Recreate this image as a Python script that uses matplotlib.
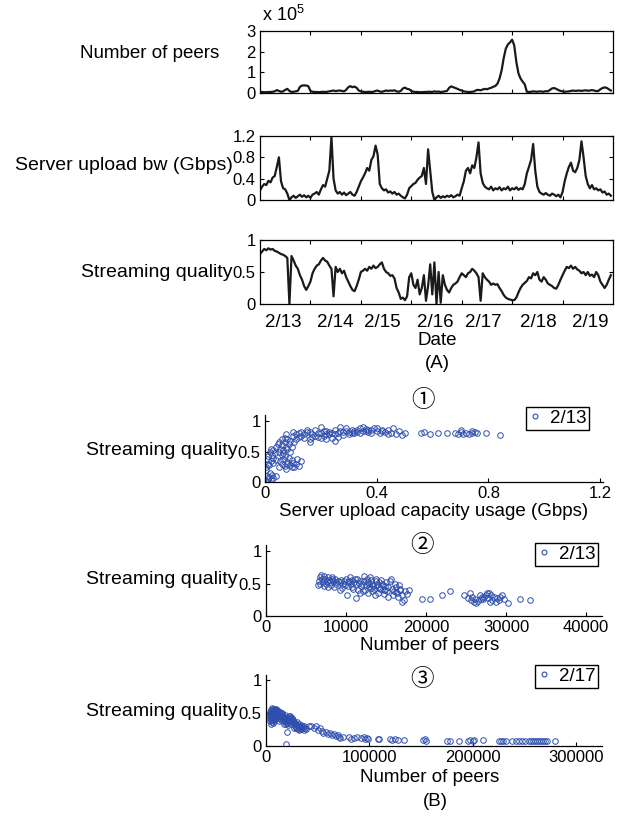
import numpy as np
import matplotlib
matplotlib.use("Agg")
import matplotlib.pyplot as plt
from matplotlib.lines import Line2D

plt.rcParams['font.family'] = ['Liberation Sans', 'Noto Sans CJK JP', 'DejaVu Sans']
plt.rcParams['mathtext.fontset'] = 'custom'
plt.rcParams['mathtext.rm'] = 'Liberation Sans'
plt.rcParams['mathtext.it'] = 'Liberation Sans'

# ---------------- Data (A): hourly samples, 2/13 .. 2/19 ----------------
date_labels = ['2/13', '2/14', '2/15', '2/16', '2/17', '2/18', '2/19']

peers_k = [5, 5, 4, 4, 5, 5, 6, 8, 14, 10, 6, 8, 15, 20, 10, 5, 6, 8, 10, 30,
           36, 37, 36, 33, 10, 6, 5, 5, 4, 5, 6, 5, 6, 8, 10, 12, 9, 11, 12, 10,
           8, 15, 28, 33, 28, 31, 25, 12, 8, 6, 5, 5, 6, 5, 6, 10, 12, 7, 6, 9,
           12, 10, 12, 11, 13, 8, 6, 10, 22, 26, 20, 18, 10, 6, 5, 5, 4, 4, 5, 5,
           6, 6, 5, 8, 6, 7, 5, 6, 8, 10, 25, 32, 28, 24, 20, 15, 12, 8, 6, 5,
           5, 6, 8, 14, 15, 13, 17, 20, 18, 22, 25, 30, 34, 45, 70, 110, 170, 215, 235, 245,
           258, 230, 150, 95, 70, 55, 42, 6, 5, 6, 8, 7, 6, 8, 7, 6, 9, 8, 15, 22,
           24, 20, 14, 10, 8, 6, 7, 8, 10, 12, 10, 11, 12, 10, 12, 13, 11, 12, 14, 12,
           9, 10, 18, 24, 27, 25, 18, 12]

server_bw = [0.18, 0.25, 0.30, 0.28, 0.36, 0.33, 0.42, 0.45, 0.62, 0.80, 0.35, 0.22, 0.20, 0.12, 0.00, 0.05,
             0.08, 0.04, 0.07, 0.10, 0.06, 0.09, 0.05, 0.08, 0.04, 0.10, 0.12, 0.15, 0.10, 0.20, 0.28, 0.25,
             0.40, 0.55, 1.18, 0.40, 0.18, 0.12, 0.15, 0.10, 0.14, 0.09, 0.12, 0.15, 0.10, 0.08, 0.15, 0.25,
             0.35, 0.42, 0.50, 0.60, 0.55, 0.75, 0.82, 1.02, 0.85, 0.30, 0.22, 0.18, 0.20, 0.14, 0.16, 0.12,
             0.15, 0.10, 0.12, 0.08, 0.05, 0.03, 0.10, 0.22, 0.26, 0.30, 0.32, 0.38, 0.42, 0.45, 0.60, 0.30,
             0.95, 0.55, 0.15, 0.00, 0.05, 0.08, 0.04, 0.07, 0.05, 0.08, 0.06, 0.09, 0.05, 0.07, 0.10, 0.08,
             0.22, 0.35, 0.55, 0.60, 0.50, 0.65, 0.60, 0.80, 1.08, 0.50, 0.32, 0.25, 0.22, 0.20, 0.25, 0.18,
             0.22, 0.20, 0.24, 0.18, 0.22, 0.20, 0.25, 0.18, 0.22, 0.20, 0.24, 0.19, 0.22, 0.20, 0.30, 0.50,
             0.62, 0.75, 1.05, 0.55, 0.25, 0.15, 0.12, 0.10, 0.13, 0.10, 0.08, 0.12, 0.10, 0.07, 0.10, 0.05,
             0.15, 0.35, 0.50, 0.62, 0.70, 0.55, 0.52, 0.60, 0.75, 1.10, 0.80, 0.45, 0.30, 0.22, 0.28, 0.20,
             0.22, 0.18, 0.20, 0.14, 0.16, 0.10, 0.12, 0.08]

quality = [0.78, 0.82, 0.86, 0.84, 0.87, 0.85, 0.86, 0.83, 0.82, 0.80, 0.78, 0.77, 0.75, 0.72, 0.00, 0.75,
           0.68, 0.60, 0.55, 0.45, 0.38, 0.28, 0.22, 0.28, 0.35, 0.48, 0.55, 0.60, 0.62, 0.68, 0.72, 0.68,
           0.66, 0.60, 0.55, 0.12, 0.58, 0.50, 0.55, 0.48, 0.52, 0.42, 0.35, 0.28, 0.22, 0.20, 0.28, 0.38,
           0.50, 0.52, 0.55, 0.52, 0.58, 0.55, 0.60, 0.56, 0.58, 0.62, 0.65, 0.55, 0.50, 0.48, 0.44, 0.45,
           0.40, 0.25, 0.18, 0.08, 0.10, 0.06, 0.12, 0.42, 0.48, 0.30, 0.25, 0.38, 0.15, 0.25, 0.45, 0.05,
           0.28, 0.62, 0.15, 0.65, 0.00, 0.50, 0.02, 0.45, 0.30, 0.22, 0.18, 0.25, 0.30, 0.32, 0.35, 0.42,
           0.48, 0.45, 0.42, 0.48, 0.50, 0.55, 0.52, 0.48, 0.42, 0.05, 0.48, 0.42, 0.38, 0.35, 0.30, 0.32,
           0.30, 0.31, 0.25, 0.20, 0.14, 0.10, 0.08, 0.07, 0.06, 0.06, 0.10, 0.18, 0.25, 0.30, 0.33, 0.36,
           0.42, 0.40, 0.48, 0.45, 0.50, 0.38, 0.35, 0.42, 0.38, 0.32, 0.30, 0.28, 0.25, 0.24, 0.30, 0.38,
           0.45, 0.52, 0.58, 0.56, 0.60, 0.55, 0.58, 0.54, 0.52, 0.48, 0.50, 0.45, 0.50, 0.44, 0.46, 0.42,
           0.50, 0.45, 0.35, 0.30, 0.25, 0.30, 0.38, 0.45]

# ---------------- Data (B1): 2/13, server usage vs quality ----------------
b1_usage = [0.005, 0.01, 0.015, 0.02, 0.008, 0.025, 0.012, 0.03, 0.018, 0.04, 0.005,
            0.005, 0.01, 0.008, 0.015, 0.02, 0.012, 0.025, 0.018, 0.03, 0.03, 0.035, 0.022, 0.04, 0.028, 0.045, 0.038,
            0.05, 0.06, 0.07, 0.08, 0.09, 0.10, 0.11, 0.12, 0.13, 0.075, 0.085, 0.095, 0.065, 0.105, 0.055, 0.115, 0.07, 0.095, 0.08, 0.06,
            0.05, 0.055, 0.06, 0.065, 0.07, 0.075, 0.08, 0.085, 0.09, 0.06, 0.07, 0.10, 0.095, 0.08, 0.05, 0.105, 0.11, 0.075, 0.065, 0.09,
            0.12, 0.13, 0.14, 0.15, 0.16, 0.17, 0.18, 0.19, 0.20, 0.21, 0.22, 0.23, 0.24, 0.25, 0.26, 0.27, 0.28, 0.29, 0.30, 0.31,
            0.32, 0.33, 0.34, 0.35, 0.36, 0.37, 0.38, 0.39, 0.40, 0.41, 0.42, 0.43, 0.44, 0.45, 0.46, 0.47, 0.48, 0.49, 0.50,
            0.14, 0.16, 0.18, 0.20, 0.22, 0.24, 0.26, 0.28, 0.30, 0.32, 0.34, 0.36, 0.38, 0.40, 0.42, 0.44, 0.35, 0.27, 0.20, 0.15,
            0.12, 0.17, 0.23, 0.29, 0.33, 0.37, 0.31, 0.25, 0.19, 0.21, 0.13, 0.11, 0.10, 0.22, 0.25, 0.16,
            0.56, 0.57, 0.59, 0.62, 0.65, 0.68, 0.69, 0.70, 0.71, 0.72, 0.73, 0.74, 0.75, 0.76, 0.79, 0.84, 0.70, 0.74]
b1_quality = [0.02, 0.05, 0.08, 0.03, 0.10, 0.12, 0.00, 0.06, 0.15, 0.10, 0.20,
              0.25, 0.30, 0.38, 0.28, 0.35, 0.42, 0.45, 0.50, 0.40, 0.52, 0.48, 0.55, 0.58, 0.32, 0.62, 0.36,
              0.25, 0.30, 0.27, 0.33, 0.28, 0.32, 0.30, 0.27, 0.35, 0.22, 0.40, 0.36, 0.38, 0.25, 0.35, 0.38, 0.42, 0.24, 0.30, 0.45,
              0.50, 0.55, 0.60, 0.52, 0.65, 0.58, 0.70, 0.62, 0.68, 0.70, 0.72, 0.75, 0.58, 0.55, 0.65, 0.66, 0.70, 0.78, 0.48, 0.50,
              0.80, 0.76, 0.72, 0.82, 0.70, 0.78, 0.85, 0.74, 0.80, 0.76, 0.83, 0.79, 0.72, 0.86, 0.80, 0.84, 0.77, 0.88, 0.82, 0.86,
              0.80, 0.85, 0.88, 0.83, 0.87, 0.82, 0.86, 0.89, 0.84, 0.80, 0.86, 0.82, 0.85, 0.80, 0.88, 0.79, 0.83, 0.77, 0.80,
              0.78, 0.82, 0.76, 0.72, 0.78, 0.80, 0.74, 0.82, 0.78, 0.84, 0.80, 0.84, 0.80, 0.88, 0.83, 0.78, 0.90, 0.90, 0.90, 0.86,
              0.74, 0.74, 0.82, 0.84, 0.82, 0.85, 0.80, 0.78, 0.80, 0.84, 0.82, 0.78, 0.82, 0.70, 0.68, 0.66,
              0.80, 0.82, 0.78, 0.80, 0.81, 0.80, 0.78, 0.82, 0.79, 0.80, 0.78, 0.81, 0.82, 0.80, 0.81, 0.77, 0.85, 0.84]

# ---------------- Data (B2): 2/13, number of peers vs quality ----------------
b2_peers = [6600, 6800, 7000, 7200, 7400, 7600, 7800, 8000, 8200, 8400, 8600, 8800, 9000, 6700, 7100, 7500, 7900, 8300, 8700, 6900,
            7300, 7700, 6500, 8100, 8500,
            9200, 9400, 9600, 9800, 10000, 10200, 10400, 10600, 10800, 11000, 11200, 11400, 11600, 11800, 12000, 9500, 10100, 10700,
            11300, 11500, 11900, 9900, 10500, 11100, 12200, 10900, 11700, 12100, 9300, 10300,
            12300, 12500, 12700, 12900, 13100, 13300, 13500, 13700, 13900, 14100, 14300, 14500, 14700, 14900, 15100, 15300, 12400,
            12800, 13000, 13200, 13600, 13800, 14000, 14400, 14800, 15000, 12600, 13400, 14200, 14600, 15200, 15500, 15600, 13100,
            12900, 14900, 14000,
            15800, 16000, 16200, 16400, 16600, 16800, 17000, 17200, 17400, 17600, 17900, 16500, 16100, 15900, 17000, 16700, 16300,
            19500, 20500, 22000, 23000,
            24800, 25300, 25500, 25600, 25800, 26000, 26300, 26500, 26700, 26900, 27100, 27300, 27500, 27700, 27900, 28100, 28300,
            28500, 28700, 28900, 29100, 29300, 29500, 29700, 27600, 27000, 28000, 26100, 30200, 31800, 33000]
b2_quality = [0.55, 0.60, 0.57, 0.62, 0.58, 0.55, 0.60, 0.52, 0.57, 0.54, 0.58, 0.50, 0.55, 0.50, 0.52, 0.50, 0.56, 0.60, 0.52, 0.64,
              0.47, 0.45, 0.48, 0.48, 0.45,
              0.52, 0.56, 0.50, 0.54, 0.58, 0.52, 0.55, 0.50, 0.56, 0.53, 0.49, 0.57, 0.51, 0.54, 0.50, 0.44, 0.32, 0.45,
              0.28, 0.40, 0.46, 0.48, 0.60, 0.58, 0.62, 0.42, 0.36, 0.38, 0.40, 0.47,
              0.55, 0.48, 0.52, 0.45, 0.56, 0.50, 0.42, 0.55, 0.48, 0.52, 0.44, 0.50, 0.40, 0.46, 0.38, 0.45, 0.40,
              0.35, 0.60, 0.38, 0.32, 0.58, 0.36, 0.56, 0.34, 0.52, 0.58, 0.46, 0.42, 0.48, 0.30, 0.55, 0.58, 0.43,
              0.50, 0.40, 0.45,
              0.42, 0.38, 0.45, 0.35, 0.48, 0.40, 0.32, 0.25, 0.38, 0.34, 0.40, 0.30, 0.50, 0.33, 0.22, 0.42, 0.37,
              0.27, 0.27, 0.32, 0.38,
              0.32, 0.28, 0.35, 0.25, 0.30, 0.22, 0.20, 0.24, 0.32, 0.27, 0.26, 0.30, 0.33, 0.28, 0.36, 0.32, 0.25,
              0.30, 0.22, 0.28, 0.25, 0.30, 0.32, 0.27, 0.35, 0.30, 0.22, 0.26, 0.20, 0.26, 0.25]

# ---------------- Data (B3): 2/17, number of peers vs quality ----------------
b3_peers = [4000, 4500, 5000, 5200, 5500, 5800, 6000, 6200, 6500, 6800, 7000, 7200, 7500, 7800, 8000, 8200, 8500, 8800, 9000,
            9200, 9500, 9800, 10000, 10200, 10500, 10800, 11000, 11500, 12000, 4200, 4800, 5300, 6300, 6600, 7400, 8600, 9600,
            11200, 5600, 7600, 3500, 4600, 5900, 6900, 8300, 9300, 10600, 3800, 4300, 5100, 6100, 7100, 7900, 8900, 9900, 10900,
            12500, 13000, 13500, 14000, 14500, 15000, 15500, 16000, 16500, 17000, 17500, 18000, 18500, 19000, 19500, 20000,
            20500, 21000, 21500, 22000, 22500, 23000, 23500, 24000, 24500, 25000, 13200, 14800, 16200, 17800, 19200, 20800,
            22200, 23800, 12800, 15800, 18200,
            25500, 26000, 26500, 27000, 27500, 28000, 28500, 29000, 29500, 30000, 30500, 31000, 31500, 32000, 32500, 33000,
            33500, 34000, 35000, 36000, 37000, 38000, 26800, 29800, 31800, 34500, 36500, 39000,
            19500, 20500,
            42000, 44000, 46000, 48000, 50000, 52000, 54000, 55000, 58000, 60000, 62000, 64000, 66000, 68000, 70000, 71000,
            72000, 74000, 80000, 82000, 85000, 88000, 92000, 95000, 96000, 98000, 99000, 108000, 109000, 120000, 122000,
            125000, 128000, 133000, 152000, 154000, 155000, 175000, 178000, 187000, 195000, 197000, 200000, 201000, 210000,
            225000, 227000, 229000, 232000, 238000, 242000, 245000, 248000, 251000, 254000, 256000, 258000, 260000, 262000,
            264000, 266000, 268000, 270000, 272000, 280000]
b3_quality = [0.45, 0.50, 0.40, 0.55, 0.48, 0.36, 0.52, 0.44, 0.57, 0.47, 0.40, 0.54, 0.50, 0.43, 0.56, 0.38, 0.52, 0.46, 0.55,
              0.42, 0.50, 0.53, 0.47, 0.55, 0.44, 0.51, 0.49, 0.53, 0.46, 0.38, 0.33, 0.42, 0.35, 0.40, 0.45, 0.41, 0.45,
              0.43, 0.50, 0.55, 0.48, 0.55, 0.58, 0.53, 0.49, 0.57, 0.52, 0.52, 0.42, 0.46, 0.39, 0.50, 0.47, 0.52, 0.50, 0.46,
              0.50, 0.47, 0.51, 0.45, 0.49, 0.44, 0.48, 0.43, 0.46, 0.40, 0.44, 0.38, 0.42, 0.36, 0.40, 0.35,
              0.42, 0.38, 0.44, 0.40, 0.45, 0.42, 0.46, 0.40, 0.43, 0.38, 0.42, 0.40, 0.38, 0.34, 0.33, 0.32,
              0.36, 0.34, 0.38, 0.50, 0.47,
              0.42, 0.36, 0.40, 0.33, 0.37, 0.30, 0.35, 0.28, 0.33, 0.27, 0.31, 0.26, 0.30, 0.25, 0.29, 0.27,
              0.32, 0.26, 0.30, 0.27, 0.25, 0.28, 0.28, 0.36, 0.34, 0.29, 0.31, 0.26,
              0.03, 0.22,
              0.31, 0.30, 0.27, 0.31, 0.25, 0.28, 0.23, 0.20, 0.22, 0.19, 0.20, 0.17, 0.18, 0.15, 0.16, 0.14,
              0.12, 0.13, 0.14, 0.11, 0.12, 0.13, 0.12, 0.13, 0.11, 0.12, 0.10, 0.10, 0.11, 0.10, 0.09,
              0.10, 0.09, 0.09, 0.09, 0.10, 0.08, 0.08, 0.08, 0.08, 0.08, 0.09, 0.08, 0.09, 0.09,
              0.08, 0.08, 0.07, 0.08, 0.07, 0.07, 0.08, 0.07, 0.07, 0.08, 0.07, 0.07, 0.08, 0.07,
              0.07, 0.08, 0.07, 0.07, 0.08, 0.08]

# ---------------- Figure ----------------
W, H = 622, 819
fig = plt.figure(figsize=(W / 100, H / 100), dpi=100)


def rect(x0, y0, x1, y1):
    return [x0 / W, 1 - y1 / H, (x1 - x0) / W, (y1 - y0) / H]


TICK = 12
LAB = 13.5
YLAB = 14
LINE_C = '#1a1a1a'
BLUE = '#2f4fae'

hours = np.arange(len(peers_k)) / 24.0
date_pos = [0.46, 1.49, 2.42, 3.47, 4.42, 5.52, 6.55]


def style_ts(ax, show_dates=False):
    ax.set_xlim(0, 7)
    ax.set_xticks([1, 2, 3, 4, 5, 6])
    ax.set_xticklabels([])
    ax.tick_params(axis='both', which='major', direction='in', top=True, right=True,
                   length=3, width=0.8, labelsize=TICK, pad=3)
    if show_dates:
        ax.set_xticks(date_pos, minor=True)
        ax.set_xticklabels(date_labels, minor=True, fontsize=LAB)
        ax.tick_params(axis='x', which='minor', length=0, pad=7)
    for s in ax.spines.values():
        s.set_linewidth(0.9)


ax1 = fig.add_axes(rect(260, 31, 613, 93))
ax1.plot(hours, np.array(peers_k) * 1000, color=LINE_C, lw=1.6)
ax1.set_ylim(0, 300000)
ax1.set_yticks([0, 100000, 200000, 300000])
ax1.set_yticklabels(['0', '1', '2', '3'])
style_ts(ax1)
fig.text(262 / W, 1 - 15 / H, r'x 10$^{\mathrm{5}}$', fontsize=13, ha='left', va='center')

ax2 = fig.add_axes(rect(260, 136, 613, 200))
ax2.plot(hours, server_bw, color=LINE_C, lw=1.6)
ax2.set_ylim(0, 1.2)
ax2.set_yticks([0, 0.4, 0.8, 1.2])
ax2.set_yticklabels(['0', '0.4', '0.8', '1.2'])
style_ts(ax2)

ax3 = fig.add_axes(rect(260, 240, 613, 304))
ax3.plot(hours, quality, color=LINE_C, lw=1.6)
ax3.set_ylim(0, 1)
ax3.set_yticks([0, 0.5, 1])
ax3.set_yticklabels(['0', '0.5', '1'])
style_ts(ax3, show_dates=True)

fig.text(150 / W, 1 - 53 / H, 'Number of peers', fontsize=LAB, ha='center', va='center')
fig.text(233 / W, 1 - 165 / H, 'Server upload bw (Gbps)', fontsize=YLAB, ha='right', va='center')
fig.text(233 / W, 1 - 273 / H, 'Streaming quality', fontsize=YLAB, ha='right', va='center')
fig.text(437 / W, 1 - 340 / H, 'Date', fontsize=LAB, ha='center', va='center')
fig.text(437 / W, 1 - 363 / H, '(A)', fontsize=LAB, ha='center', va='center')


def style_sc(ax):
    ax.spines['top'].set_visible(False)
    ax.spines['right'].set_visible(False)
    for s in ['left', 'bottom']:
        ax.spines[s].set_linewidth(0.9)
    ax.tick_params(axis='both', direction='in', length=3, width=0.8, labelsize=TICK, pad=3)
    ax.set_yticks([0, 0.5, 1])
    ax.set_yticklabels(['0', '0.5', '1'])


def add_legend(ax, label, x1, y0):
    h = Line2D([], [], ls='none', marker='o', mfc='none', mec=BLUE, ms=3.5, mew=0.8)
    leg = ax.legend([h], [label], loc='upper right',
                    bbox_to_anchor=(x1 / W, 1 - y0 / H), bbox_transform=fig.transFigure,
                    frameon=True, fancybox=False, edgecolor='black', framealpha=1,
                    borderpad=0.15, borderaxespad=0, handlelength=0.6, handletextpad=0.5,
                    fontsize=LAB)
    leg.get_frame().set_linewidth(1.0)


circ = ['\u2460', '\u2461', '\u2462']
CJK = ['Noto Sans CJK JP', 'DejaVu Sans']

bx1 = fig.add_axes(rect(265, 415, 603, 482))
bx1.plot(b1_usage, b1_quality, ls='none', marker='o', mfc='none', mec=BLUE, ms=4, mew=0.7)
bx1.set_xlim(0, 1.21)
bx1.set_ylim(0, 1.1)
bx1.set_xticks([0, 0.4, 0.8, 1.2])
bx1.set_xticklabels(['0', '0.4', '0.8', '1.2'])
style_sc(bx1)
add_legend(bx1, '2/13', 589, 407)
fig.text(423 / W, 1 - 400 / H, circ[0], fontsize=17, ha='center', va='center', family=CJK)
fig.text(237 / W, 1 - 450 / H, 'Streaming quality', fontsize=YLAB, ha='right', va='center')
fig.text(434 / W, 1 - 512 / H, 'Server upload capacity usage (Gbps)', fontsize=LAB, ha='center', va='center')

bx2 = fig.add_axes(rect(266, 545, 602, 616))
bx2.plot(b2_peers, b2_quality, ls='none', marker='o', mfc='none', mec=BLUE, ms=4, mew=0.7)
bx2.set_xlim(0, 42000)
bx2.set_ylim(0, 1.1)
bx2.set_xticks([0, 10000, 20000, 30000, 40000])
bx2.set_xticklabels(['0', '10000', '20000', '30000', '40000'])
style_sc(bx2)
add_legend(bx2, '2/13', 598, 543)
fig.text(422 / W, 1 - 545 / H, circ[1], fontsize=17, ha='center', va='center', family=CJK)
fig.text(237 / W, 1 - 580 / H, 'Streaming quality', fontsize=YLAB, ha='right', va='center')
fig.text(430 / W, 1 - 646 / H, 'Number of peers', fontsize=LAB, ha='center', va='center')

bx3 = fig.add_axes(rect(266, 675, 602, 746))
bx3.plot(b3_peers, b3_quality, ls='none', marker='o', mfc='none', mec=BLUE, ms=4, mew=0.7)
bx3.set_xlim(0, 325000)
bx3.set_ylim(0, 1.08)
bx3.set_xticks([0, 100000, 200000, 300000])
bx3.set_xticklabels(['0', '100000', '200000', '300000'])
style_sc(bx3)
add_legend(bx3, '2/17', 598, 665)
fig.text(422 / W, 1 - 680 / H, circ[2], fontsize=17, ha='center', va='center', family=CJK)
fig.text(237 / W, 1 - 712 / H, 'Streaming quality', fontsize=YLAB, ha='right', va='center')
fig.text(430 / W, 1 - 778 / H, 'Number of peers', fontsize=LAB, ha='center', va='center')
fig.text(435 / W, 1 - 801 / H, '(B)', fontsize=LAB, ha='center', va='center')

fig.savefig('out.png', dpi=100)
